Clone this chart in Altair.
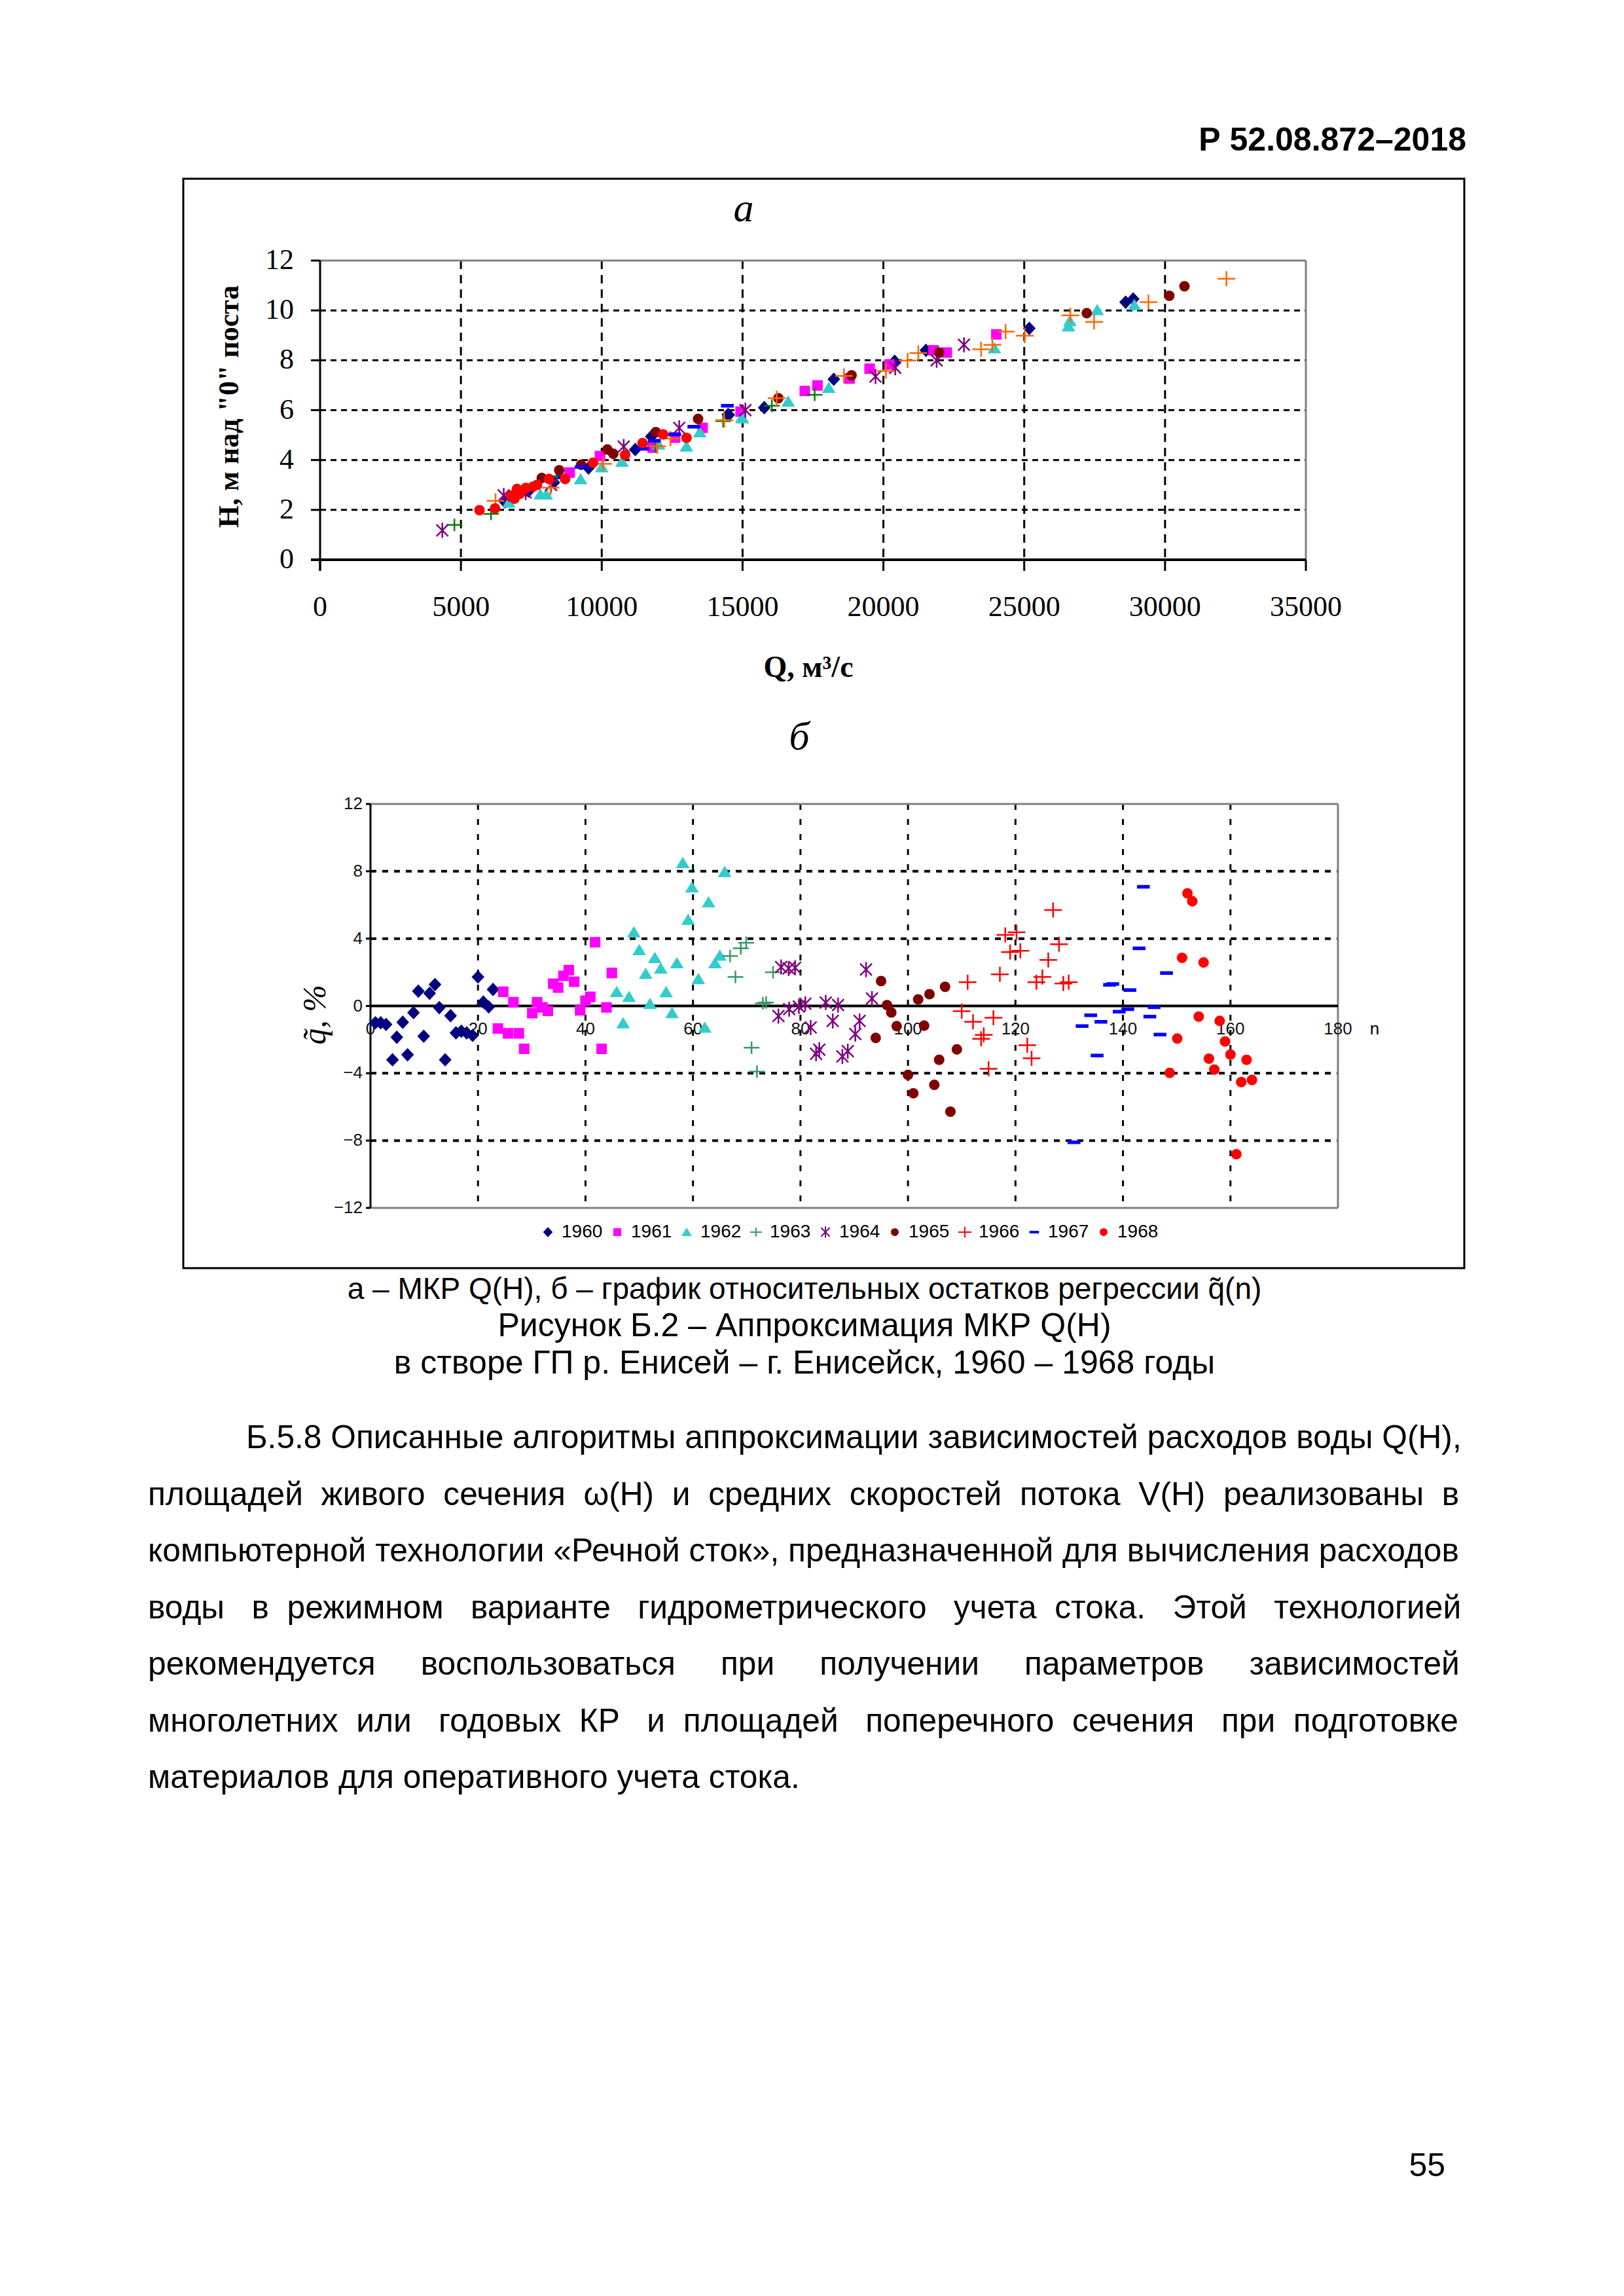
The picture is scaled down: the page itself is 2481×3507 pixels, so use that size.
import altair as alt
import pandas as pd

# ---------------- data ----------------
years = ["1960", "1961", "1962", "1963", "1964", "1965", "1966", "1967", "1968"]

# chart a: Q (m3/s) vs H (m), per year
a_q_1960 = [6570, 7400, 8300, 9530, 11190, 11760, 14480, 14510, 15770, 18240, 20400, 21510, 25180, 28600, 28870]
a_h_1960 = [2.32, 2.75, 3.10, 3.68, 4.42, 4.94, 5.82, 5.81, 6.10, 7.24, 7.96, 8.40, 9.28, 10.33, 10.46]
a_q_1961 = [8860, 9940, 11810, 12600, 13580, 14930, 17210, 17660, 18800, 19510, 20210, 21780, 22250, 24010]
a_h_1961 = [3.50, 4.16, 4.50, 4.90, 5.29, 5.94, 6.77, 6.99, 7.27, 7.66, 7.83, 8.40, 8.31, 9.04]
a_q_1962 = [6700, 7820, 8030, 9250, 10000, 10720, 12020, 13010, 13480, 14980, 14990, 16620, 18060, 23940, 26570, 26620, 27590, 28910]
a_h_1962 = [2.30, 2.63, 2.63, 3.24, 3.72, 3.94, 4.63, 4.55, 5.12, 5.72, 5.68, 6.35, 6.90, 8.49, 9.37, 9.58, 10.02, 10.22]
a_q_1963 = [4770, 6070, 8400, 11900, 14310, 16040, 17560]
a_h_1963 = [1.40, 1.84, 3.35, 4.55, 5.56, 6.18, 6.62]
a_q_1964 = [4340, 6520, 7300, 8200, 10780, 12750, 15100, 19720, 20420, 21890, 22860]
a_h_1964 = [1.18, 2.58, 2.70, 3.00, 4.54, 5.29, 6.00, 7.35, 7.70, 8.00, 8.62]
a_q_1965 = [7870, 8490, 9270, 10200, 10410, 11920, 13420, 16270, 18870, 21980, 27220, 30150, 30690]
a_h_1965 = [3.28, 3.59, 3.81, 4.42, 4.25, 5.12, 5.65, 6.48, 7.40, 8.31, 9.89, 10.59, 10.97]
a_q_1966 = [6230, 8180, 10050, 11970, 12440, 14350, 16210, 18600, 20090, 20860, 21240, 23470, 23870, 24340, 25020, 26640, 27480, 29410, 32180]
a_h_1966 = [2.36, 2.89, 3.85, 4.55, 4.86, 5.60, 6.48, 7.37, 7.57, 7.99, 8.29, 8.44, 8.62, 9.15, 8.99, 9.80, 9.54, 10.33, 11.27]
a_q_1967 = [8650, 9270, 11450, 11870, 12590, 13270, 14460]
a_h_1967 = [3.30, 3.72, 4.45, 4.77, 5.03, 5.34, 6.18]
a_q_1968 = [5660, 6210, 6780, 6900, 6990, 7100, 7300, 7560, 7700, 8130, 8700, 9690, 10830, 11450, 12180, 13010]
a_h_1968 = [1.99, 2.06, 2.58, 2.45, 2.84, 2.65, 2.88, 2.93, 3.00, 3.24, 3.24, 3.89, 4.20, 4.68, 5.03, 4.89]

# chart b: relative residuals q~ (%) vs n, per year
b_n_1960 = [0.9, 1.9, 2.9, 4.1, 4.9, 6.0, 6.9, 8.0, 8.9, 9.9, 11.0, 12.0, 12.8, 13.9, 14.9, 15.9, 16.9, 17.9, 19.0, 20.0, 21.0, 22.0, 22.8]
b_q_1960 = [-1.0, -1.0, -1.1, -3.2, -1.86, -0.97, -2.9, -0.4, 0.88, -1.8, 0.75, 1.27, -0.1, -3.2, -0.58, -1.6, -1.5, -1.6, -1.75, 1.72, 0.23, -0.06, 0.98]
b_n_1961 = [23.7, 24.7, 25.6, 26.6, 27.6, 28.6, 30.1, 31.0, 32.0, 33.0, 34.0, 34.9, 35.9, 36.9, 37.9, 39.0, 40.0, 40.9, 41.8, 43.0, 43.9, 44.9]
b_q_1961 = [-1.34, 0.84, -1.63, 0.22, -1.63, -2.55, -0.43, 0.22, -0.09, -0.29, 1.32, 1.09, 1.79, 2.13, 1.44, -0.26, 0.31, 0.54, 3.78, -2.55, -0.09, 1.96]
b_n_1962 = [45.8, 47.0, 48.1, 49.0, 50.0, 51.2, 52.0, 52.9, 54.0, 55.0, 56.1, 57.0, 58.1, 59.1, 59.8, 61.0, 62.2, 62.9, 64.1, 65.0, 65.9]
b_q_1962 = [0.84, -1.02, 0.55, 4.39, 3.33, 1.92, 0.13, 2.86, 2.23, 0.83, -0.42, 2.55, 8.5, 5.13, 7.05, 1.61, -1.28, 6.17, 2.55, 3.0, 7.97]
b_n_1963 = [66.9, 67.9, 68.9, 69.9, 70.9, 71.9, 73.0, 73.6, 74.9]
b_q_1963 = [2.97, 1.72, 3.42, 3.75, -2.48, -3.9, 0.16, 0.2, 2.0]
b_n_1964 = [75.9, 76.4, 77.8, 77.9, 79.0, 79.7, 80.9, 81.9, 82.9, 83.5, 84.7, 86.0, 87.0, 87.8, 88.8, 90.2, 91.0, 92.2, 93.3]
b_q_1964 = [-0.6, 2.31, 2.23, -0.19, 2.27, -0.03, 0.13, -1.28, -2.84, -2.6, 0.2, -0.89, 0.05, -3.0, -2.69, -1.67, -0.89, 2.16, 0.44]
b_n_1965 = [94.0, 95.0, 96.1, 96.9, 97.9, 100.0, 101.0, 101.9, 103.0, 104.0, 104.9, 105.8, 106.9, 107.9, 109.1]
b_q_1965 = [-1.9, 1.48, 0.05, -0.39, -1.2, -4.1, -5.19, 0.39, -1.17, 0.7, -4.69, -3.2, 1.14, -6.28, -2.58]
b_n_1966 = [110.0, 111.1, 112.1, 113.6, 114.1, 115.0, 115.9, 117.1, 118.1, 119.0, 120.2, 120.9, 122.2, 123.0, 123.9, 125.0, 126.1, 127.0, 128.1, 128.9, 129.9]
b_q_1966 = [-0.31, 1.41, -0.94, -1.95, -1.72, -3.73, -0.7, 1.88, 4.22, 3.2, 4.38, 3.28, -2.33, -3.11, 1.41, 1.72, 2.73, 5.7, 3.67, 1.33, 1.41]
b_n_1967 = [130.9, 132.4, 134.0, 135.2, 135.9, 137.5, 138.1, 139.3, 140.9, 141.3, 143.0, 143.8, 145.0, 145.8, 146.9, 148.1]
b_q_1967 = [-8.1, -1.2, -0.55, -2.95, -0.94, 1.25, 1.3, -0.34, -0.19, 0.94, 3.42, 7.08, -0.63, -0.08, -1.7, 1.95]
b_n_1968 = [148.7, 150.1, 151.0, 152.0, 152.9, 154.1, 155.0, 156.0, 157.0, 158.0, 159.0, 160.0, 161.1, 162.0, 163.0, 164.0]
b_q_1968 = [-3.98, -1.94, 2.86, 6.69, 6.22, -0.63, 2.58, -3.13, -3.78, -0.89, -2.11, -2.89, -8.81, -4.52, -3.2, -4.4]

# axes ticks / labels
a_x_ticks = [0, 5000, 10000, 15000, 20000, 25000, 30000, 35000]
a_y_ticks = [0, 2, 4, 6, 8, 10, 12]
a_x_grid = [5000, 10000, 15000, 20000, 25000, 30000]
a_y_grid = [2, 4, 6, 8, 10]
b_x_ticks = [0, 20, 40, 60, 80, 100, 120, 140, 160, 180]
b_y_ticks = [-12, -8, -4, 0, 4, 8, 12]
b_x_grid = [20, 40, 60, 80, 100, 120, 140, 160]
b_y_grid = [-8, -4, 4, 8]

# texts
header_text = "Р 52.08.872–2018"
title_a = "а"
title_b = "б"
a_ylabel = 'Н,  м  над  "0"  поста'
a_xlabel = "Q,  м³/с"
b_ylabel = "q̃, %"
b_xlabel = "n"
caption_lines = [
    "а – МКР Q(H), б – график относительных остатков регрессии q̃(n)",
    "Рисунок Б.2 – Аппроксимация МКР Q(H)",
    "в створе ГП р. Енисей – г. Енисейск, 1960 – 1968 годы",
]
body_lines = [
    "Б.5.8 Описанные алгоритмы аппроксимации зависимостей расходов воды Q(H),",
    "площадей живого сечения ω(H) и средних скоростей потока V(H) реализованы в",
    "компьютерной технологии «Речной сток», предназначенной для вычисления расходов",
    "воды в режимном варианте гидрометрического учета стока. Этой технологией",
    "рекомендуется воспользоваться при получении параметров зависимостей",
    "многолетних или годовых КР и площадей поперечного сечения при подготовке",
    "материалов для оперативного учета стока.",
]
page_number = "55"

# ---------------- styles / layout ----------------
NB = "\u00a0"
# (base non-breaking spaces per gap, extra spaces spread over the gaps) for a justified look
body_spacing = [(1, 0), (2, 0), (1, 0), (2, 6), (5, 0), (2, 4), (1, 0)]


def justify(line, base, extra):
    words = line.split(" ")
    gaps = len(words) - 1
    if gaps <= 0:
        return line
    counts = [base] * gaps
    for k in range(extra):
        counts[int((k + 0.5) * gaps / extra)] += 1
    out = words[0]
    for c, w in zip(counts, words[1:]):
        out += NB * c + w
    return out


a_colors = ["#000080", "#FF00FF", "#33CCCC", "#008000", "#800080", "#800000", "#FF6600", "#0000FF", "#FF0000"]
b_colors = ["#000080", "#FF00FF", "#33CCCC", "#339966", "#800080", "#800000", "#FF0000", "#0000FF", "#FF0000"]
SH_DIAMOND = "M0,-0.85L0.8,0L0,0.85L-0.8,0Z"
SH_SQUARE = "M-0.68,-0.68H0.68V0.68H-0.68Z"
SH_TRI = "M0,-0.68L0.82,0.68H-0.82Z"
SH_PLUS_S = "M-1.2,0H1.2M0,-0.95V0.95"
SH_AST = "M-0.9,-0.9L0.9,0.9M-0.9,0.9L0.9,-0.9M0,-1.15V1.15"
SH_CIRC = "M0.68,0A0.68,0.68 0 1,1 -0.68,0A0.68,0.68 0 1,1 0.68,0Z"
SH_PLUS_L = "M-1.35,0H1.35M0,-1.15V1.15"
SH_DASH = "M-0.85,-0.15H0.85V0.15H-0.85Z"
shapes = [SH_DIAMOND, SH_SQUARE, SH_TRI, SH_PLUS_S, SH_AST, SH_CIRC, SH_PLUS_L, SH_DASH, SH_CIRC]

SANS = "Liberation Sans"
SERIF = "Liberation Serif"

W, H = 2460, 3480
def V(p):  # page px -> view px (8px page margin)
    return p - 8

# chart a geometry (page px)
A_L, A_R, A_T, A_B = 489, 1995, 398, 855
# chart b geometry
B_L, B_R, B_T, B_B = 566, 2044, 1228, 1845

xa = alt.Scale(domain=[0, 35000], range=[V(A_L), V(A_R)], nice=False, zero=False)
ya = alt.Scale(domain=[0, 12], range=[V(A_B), V(A_T)], nice=False, zero=False)
xb = alt.Scale(domain=[0, 180], range=[V(B_L), V(B_R)], nice=False, zero=False)
yb = alt.Scale(domain=[-12, 12], range=[V(B_B), V(B_T)], nice=False, zero=False)

one = pd.DataFrame({"k": [0]})


def text_item(txt, x, y, size, font=SANS, align="center", baseline="alphabetic",
              weight="normal", style="normal", angle=0, color="black"):
    return alt.Chart(pd.DataFrame({"t": [txt]})).mark_text(
        font=font, fontSize=size, align=align, baseline=baseline,
        fontWeight=weight, fontStyle=style, angle=angle, color=color
    ).encode(x=alt.value(V(x)), y=alt.value(V(y)), text="t:N")


def hline(x1, x2, y, color="black", width=3, dash=None):
    kw = dict(color=color, strokeWidth=width)
    if dash:
        kw["strokeDash"] = dash
    return alt.Chart(one).mark_rule(**kw).encode(
        x=alt.value(V(x1)), x2=alt.value(V(x2)), y=alt.value(V(y)))


def vline(x, y1, y2, color="black", width=3, dash=None):
    kw = dict(color=color, strokeWidth=width)
    if dash:
        kw["strokeDash"] = dash
    return alt.Chart(one).mark_rule(**kw).encode(
        x=alt.value(V(x)), y=alt.value(V(y1)), y2=alt.value(V(y2)))


# ---------------- chart a ----------------
rows = []
for yr in years:
    qs = globals()["a_q_" + yr]
    hs = globals()["a_h_" + yr]
    for q, h in zip(qs, hs):
        rows.append({"Q": q, "H": h, "year": yr})
df_a = pd.DataFrame(rows)

a_grid_v = alt.Chart(pd.DataFrame({"Q": a_x_grid})).mark_rule(
    color="black", strokeWidth=3, strokeDash=[13, 9]).encode(
    x=alt.X("Q:Q", scale=xa, axis=None), y=alt.value(V(A_T)), y2=alt.value(V(A_B)))
a_grid_h = alt.Chart(pd.DataFrame({"H": a_y_grid})).mark_rule(
    color="black", strokeWidth=3, strokeDash=[9, 7]).encode(
    y=alt.Y("H:Q", scale=ya, axis=None), x=alt.value(V(A_L)), x2=alt.value(V(A_R)))
a_xticks = alt.Chart(pd.DataFrame({"Q": a_x_ticks})).mark_rule(color="black", strokeWidth=3).encode(
    x=alt.X("Q:Q", scale=xa, axis=None), y=alt.value(V(A_B)), y2=alt.value(V(A_B + 17)))
a_yticks = alt.Chart(pd.DataFrame({"H": a_y_ticks})).mark_rule(color="black", strokeWidth=3).encode(
    y=alt.Y("H:Q", scale=ya, axis=None), x=alt.value(V(A_L - 14)), x2=alt.value(V(A_L)))
a_xlab = alt.Chart(pd.DataFrame({"Q": a_x_ticks})).mark_text(
    font=SERIF, fontSize=44, baseline="middle", align="center", color="black").encode(
    x=alt.X("Q:Q", scale=xa, axis=None), y=alt.value(V(928)), text=alt.Text("Q:Q", format="d"))
a_ylab = alt.Chart(pd.DataFrame({"H": a_y_ticks})).mark_text(
    font=SERIF, fontSize=44, baseline="middle", align="right", color="black").encode(
    y=alt.Y("H:Q", scale=ya, axis=None), x=alt.value(V(A_L - 40)), text=alt.Text("H:Q", format="d"))
a_pts = alt.Chart(df_a).mark_point(filled=True, size=400, strokeWidth=2.5, opacity=1).encode(
    x=alt.X("Q:Q", scale=xa, axis=None),
    y=alt.Y("H:Q", scale=ya, axis=None),
    shape=alt.Shape("year:N", scale=alt.Scale(domain=years, range=shapes), legend=None),
    fill=alt.Fill("year:N", scale=alt.Scale(domain=years, range=a_colors), legend=None),
    stroke=alt.Stroke("year:N", scale=alt.Scale(domain=years, range=a_colors), legend=None),
)
chart_a = alt.layer(
    a_grid_v, a_grid_h,
    hline(A_L, A_R, A_T, color="#808080", width=3),
    vline(A_R, A_T, A_B, color="#808080", width=3),
    hline(A_L - 14, A_R, A_B, width=4),
    vline(A_L, A_T, A_B + 17, width=3),
    a_xticks, a_yticks, a_xlab, a_ylab, a_pts,
)

# ---------------- chart b ----------------
rows = []
for yr in years:
    ns = globals()["b_n_" + yr]
    qs = globals()["b_q_" + yr]
    for n, q in zip(ns, qs):
        rows.append({"n": n, "q": q, "year": yr})
df_b = pd.DataFrame(rows)

leg = alt.Legend(orient="none", legendX=V(823), legendY=V(1868), direction="horizontal",
                 columns=9, title=None, symbolSize=220, symbolStrokeWidth=2,
                 labelFont=SANS, labelFontSize=28, labelColor="black", labelOffset=7,
                 columnPadding=8, padding=0)

b_grid_v = alt.Chart(pd.DataFrame({"n": b_x_grid})).mark_rule(
    color="black", strokeWidth=3, strokeDash=[9, 14]).encode(
    x=alt.X("n:Q", scale=xb, axis=None), y=alt.value(V(B_T)), y2=alt.value(V(B_B)))
b_grid_h = alt.Chart(pd.DataFrame({"q": b_y_grid})).mark_rule(
    color="black", strokeWidth=4, strokeDash=[9, 9]).encode(
    y=alt.Y("q:Q", scale=yb, axis=None), x=alt.value(V(B_L)), x2=alt.value(V(B_R)))
b_zero = alt.Chart(pd.DataFrame({"q": [0]})).mark_rule(color="black", strokeWidth=4).encode(
    y=alt.Y("q:Q", scale=yb, axis=None), x=alt.value(V(B_L)), x2=alt.value(V(B_R)))
b_yticks = alt.Chart(pd.DataFrame({"q": b_y_ticks})).mark_rule(color="black", strokeWidth=3).encode(
    y=alt.Y("q:Q", scale=yb, axis=None), x=alt.value(V(B_L - 7)), x2=alt.value(V(B_L)))
b_xlab = alt.Chart(pd.DataFrame({"n": b_x_ticks})).mark_text(
    font=SANS, fontSize=26, baseline="middle", align="center", color="#111").encode(
    x=alt.X("n:Q", scale=xb, axis=None), y=alt.value(V(1572)), text=alt.Text("n:Q", format="d"))
b_ylab = alt.Chart(pd.DataFrame({"q": b_y_ticks})).mark_text(
    font=SANS, fontSize=26, baseline="middle", align="right", color="#111").encode(
    y=alt.Y("q:Q", scale=yb, axis=None), x=alt.value(V(B_L - 12)), text=alt.Text("q:Q", format="d"))
b_pts = alt.Chart(df_b).mark_point(filled=True, size=400, strokeWidth=2.5, opacity=1).encode(
    x=alt.X("n:Q", scale=xb, axis=None),
    y=alt.Y("q:Q", scale=yb, axis=None),
    shape=alt.Shape("year:N", scale=alt.Scale(domain=years, range=shapes), legend=leg),
    fill=alt.Fill("year:N", scale=alt.Scale(domain=years, range=b_colors), legend=leg),
    stroke=alt.Stroke("year:N", scale=alt.Scale(domain=years, range=b_colors), legend=leg),
)
chart_b = alt.layer(
    b_grid_v, b_grid_h,
    hline(B_L, B_R, B_T, color="#808080", width=3),
    hline(B_L, B_R, B_B, color="#808080", width=3),
    vline(B_R, B_T, B_B, color="#808080", width=3),
    vline(B_L, B_T, B_B, width=3),
    b_zero, b_yticks, b_xlab, b_ylab, b_pts,
)

# ---------------- page texts ----------------
frame = alt.Chart(one).mark_rect(fillOpacity=0, stroke="black", strokeWidth=3).encode(
    x=alt.value(V(280)), x2=alt.value(V(2237)), y=alt.value(V(273)), y2=alt.value(V(1937)))

texts = [
    text_item(header_text, 2240, 230, 50, weight="bold", align="right"),
    text_item(title_a, 1136, 338, 62, font=SERIF, style="italic"),
    text_item(a_ylabel, 351, 621, 44, font=SERIF, weight="bold", angle=270, baseline="middle"),
    text_item(a_xlabel, 1235, 1020, 46, font=SERIF, weight="bold", baseline="middle"),
    text_item(title_b, 1221, 1145, 62, font=SERIF, style="italic"),
    text_item(b_ylabel, 482, 1550, 50, font=SERIF, style="italic", angle=270, baseline="middle"),
    text_item(b_xlabel, 2100, 1572, 26, baseline="middle"),
    text_item(page_number, 2208, 3324, 50, align="right"),
]
cap_sizes = [46, 50, 50]
cap_y0, cap_dy = 1984, 57
for i, line in enumerate(caption_lines):
    texts.append(text_item(line, 1229, cap_y0 + i * cap_dy, cap_sizes[i]))
body_y0, body_dy = 2212, 86.5
for i, line in enumerate(body_lines):
    x0 = 376 if i == 0 else 226
    base, extra = body_spacing[i]
    texts.append(text_item(justify(line, base, extra), x0, body_y0 + i * body_dy, 49.7, align="left"))

page = alt.layer(frame, chart_a, chart_b, *texts).resolve_scale(
    x="independent", y="independent", fill="independent", stroke="independent", shape="independent"
).properties(width=W, height=H, padding=0, autosize="none", background="white"
).configure_view(strokeWidth=0)

page.save("out.html", embed_options={"renderer": "svg", "actions": False})
